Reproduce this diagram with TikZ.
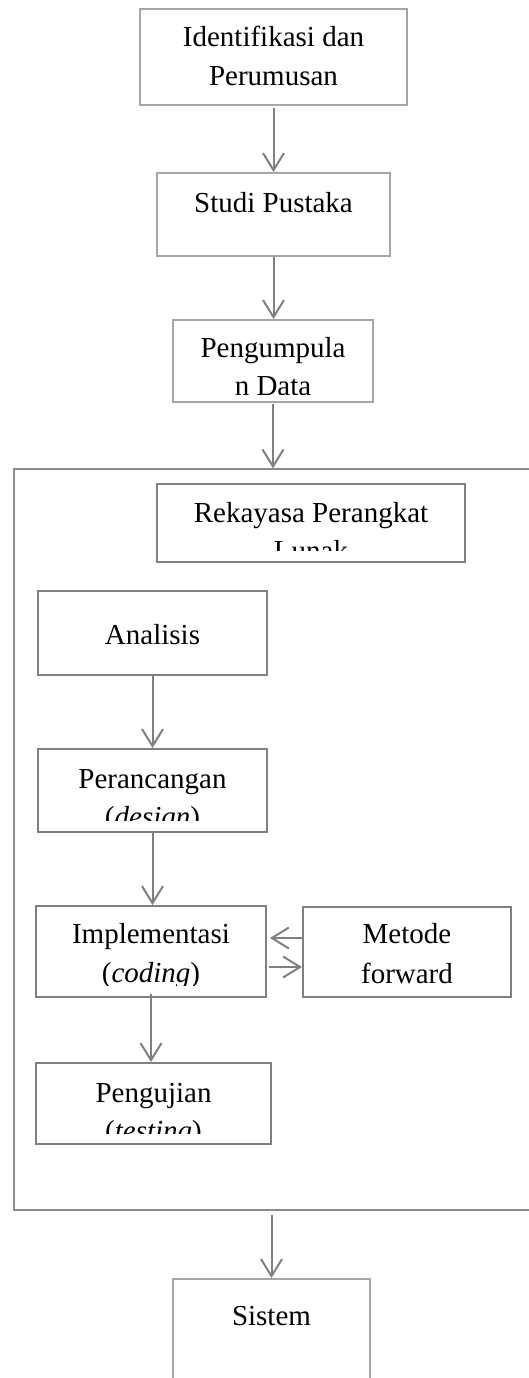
\documentclass[tikz,border=0pt]{standalone}
\usepackage{fontspec}
\setmainfont{Liberation Serif}
\usetikzlibrary{arrows.meta}
\definecolor{lightln}{RGB}{166,166,166}
\definecolor{darkln}{RGB}{128,128,128}
\definecolor{arrln}{RGB}{128,128,128}
\definecolor{outerln}{RGB}{140,140,140}
\tikzset{
 lbox/.style={draw=lightln, line width=2pt, inner sep=0pt},
 dbox/.style={draw=darkln, line width=2pt, inner sep=0pt},
 obox/.style={draw=outerln, line width=1.3pt, inner sep=0pt},
 arr/.style={draw=arrln, line width=2pt, -{Straight Barb[length=17pt,width=21pt]}},
 txt/.style={font=\fontsize{29}{38}\selectfont, inner sep=0pt, anchor=base},
}
\begin{document}
\begin{tikzpicture}[x=1pt,y=-1pt]
\path[use as bounding box] (0,0) rectangle (529,1378);
\clip (0,0) rectangle (529,1378);
% outer frame (right side lies beyond the picture)
\node[obox, minimum width=586pt, minimum height=741pt] (outer) at (307,839.5) {};
% boxes
\node[lbox, minimum width=267pt, minimum height=96pt] (b1) at (273.5,57) {};
\node[lbox, minimum width=233pt, minimum height=83pt] (b2) at (273.5,214.5) {};
\node[lbox, minimum width=200pt, minimum height=82pt] (b3) at (273,361) {};
\node[dbox, minimum width=308pt, minimum height=78pt] (rek) at (311,523) {};
\node[dbox, minimum width=229pt, minimum height=84pt] (ana) at (152.5,633) {};
\node[dbox, minimum width=229pt, minimum height=83pt] (per) at (152.5,790.5) {};
\node[dbox, minimum width=230pt, minimum height=91pt] (imp) at (151,951.5) {};
\node[dbox, minimum width=208pt, minimum height=90pt] (met) at (407,952) {};
\node[dbox, minimum width=235pt, minimum height=81pt] (pen) at (153.5,1103.5) {};
\node[lbox, minimum width=197pt, minimum height=122pt] (sis) at (271.5,1340) {};
% texts
\node[txt] (t1a) at (273.5,47) {Identifikasi dan};
\node[txt] (t1b) at (273.5,86) {Perumusan};
\node[txt] (t2) at (273.5,212) {Studi Pustaka};
\begin{scope}
\clip (175,322) rectangle (371,394);
\node[txt] (t3a) at (273,357) {Pengumpula};
\node[txt] (t3b) at (273,395) {n Data};
\end{scope}
\begin{scope}
\clip (159,486) rectangle (463,550);
\node[txt] (t4a) at (311,522) {Rekayasa Perangkat};
\node[txt] (t4b) at (311,560) {Lunak};
\end{scope}
\node[txt] (t5) at (152.5,644) {Analisis};
\begin{scope}
\clip (40,751) rectangle (265,820);
\node[txt] (t6a) at (152.5,788) {Perancangan};
\node[txt] (t6b) at (152.5,826) {(\textit{design})};
\end{scope}
\begin{scope}
\clip (38,908) rectangle (264,985);
\node[txt] (t7a) at (151,943) {Implementasi};
\node[txt] (t7b) at (151,982) {(\textit{coding})};
\end{scope}
\node[txt] (t8a) at (407,943) {Metode};
\node[txt] (t8b) at (407,983) {forward};
\begin{scope}
\clip (38,1065) rectangle (269,1133);
\node[txt] (t9a) at (153.5,1102) {Pengujian};
\node[txt] (t9b) at (153.5,1140) {(\textit{testing})};
\end{scope}
\node[txt] (t10) at (271.5,1325) {Sistem};
% connectors
\draw[arr] ([yshift=-2pt]b1.south) -- (b2.north);
\draw[arr] (b2.south) -- (b2.south |- b3.north);
\draw[arr] ([yshift=-1pt]b3.south) -- (b3.south |- outer.north);
\draw[arr] (ana.south) -- (per.north);
\draw[arr] (per.south) -- (per.south |- imp.north);
\draw[arr] ([yshift=4pt]imp.south) -- (pen.north -| imp.south);
\draw[arr] ([yshift=14pt]met.west) -- ([yshift=14pt,xshift=3pt]met.west -| imp.east);
\draw[arr] ([yshift=-15.5pt,xshift=2pt]imp.east) -- ([yshift=-15.5pt]imp.east -| met.west);
\coordinate (o2) at (sis.north |- outer.south);
\draw[arr] ([yshift=-4pt]o2) -- (sis.north);
\end{tikzpicture}
\end{document}
